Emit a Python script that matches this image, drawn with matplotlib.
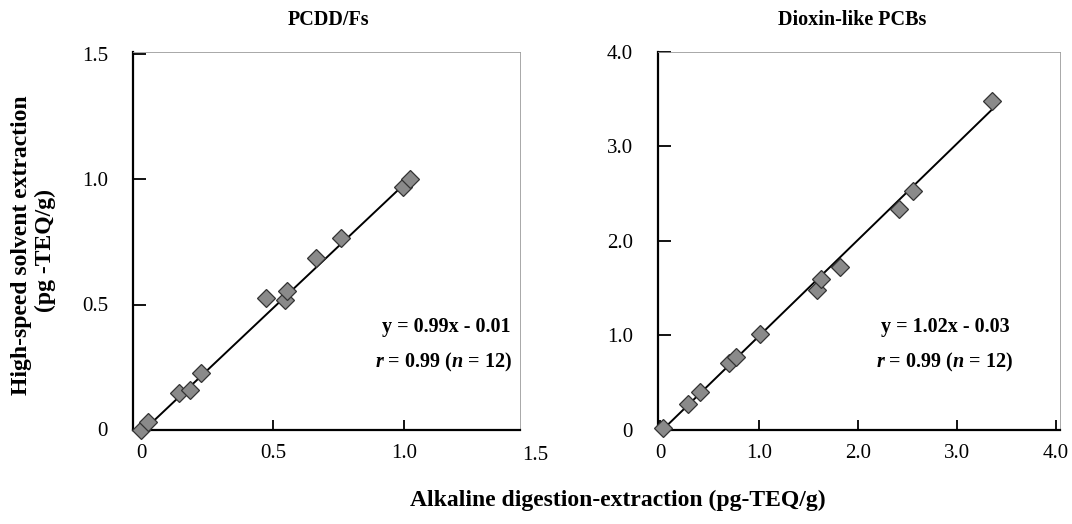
import matplotlib
matplotlib.use("Agg")
import matplotlib.pyplot as plt
import numpy as np

plt.rcParams['font.family'] = ['Liberation Serif', 'DejaVu Serif']
plt.rcParams['mathtext.fontset'] = 'custom'
plt.rcParams['mathtext.bfit'] = 'Liberation Serif:bold:italic'
plt.rcParams['mathtext.rm'] = 'Liberation Serif'
plt.rcParams['mathtext.bf'] = 'Liberation Serif:bold'

# PCDD/Fs data (alkaline digestion vs high-speed solvent extraction)
pcdd_x = [-0.005, 0.025, 0.14, 0.185, 0.225, 0.475, 0.545, 0.555, 0.665, 0.76, 0.995, 1.025]
pcdd_y = [0.0, 0.03, 0.145, 0.16, 0.225, 0.525, 0.52, 0.555, 0.685, 0.765, 0.97, 1.0]
pcdd_fit = (0.99, -0.01)
pcdd_fit_range = (-0.01, 1.03)

# Dioxin-like PCBs data
pcb_x = [0.03, 0.28, 0.40, 0.70, 0.77, 1.01, 1.59, 1.63, 1.82, 2.41, 2.56, 3.35]
pcb_y = [0.02, 0.27, 0.40, 0.71, 0.77, 1.01, 1.48, 1.59, 1.72, 2.335, 2.53, 3.48]
pcb_fit = (1.02, -0.03)
pcb_fit_range = (0.02, 3.35)

titles = ["PCDD/Fs", "Dioxin-like PCBs"]
eq_texts = ["y = 0.99x - 0.01", "y = 1.02x - 0.03"]
r_text = r"$\mathbfit{r}$ = 0.99 ($\mathbfit{n}$ = 12)"

pcdd_ticks = [0, 0.5, 1.0, 1.5]
pcdd_labels = ["0", "0.5", "1.0", "1.5"]
pcb_ticks = [0, 1.0, 2.0, 3.0, 4.0]
pcb_labels = ["0", "1.0", "2.0", "3.0", "4.0"]

W, H = 1072, 524
fig = plt.figure(figsize=(W / 100, H / 100), dpi=100)


def px_axes(x0, y0, x1, y1):
    return fig.add_axes([x0 / W, 1 - y1 / H, (x1 - x0) / W, (y1 - y0) / H])


ax1 = px_axes(133, 52, 520, 430)
ax2 = px_axes(658, 52, 1060, 430)

TICK_FS = 15
configs = [
    (ax1, pcdd_x, pcdd_y, pcdd_fit, pcdd_fit_range, (-0.034, 1.443), (-0.002, 1.51),
     pcdd_ticks, pcdd_labels, (510, 327), (512, 362), 329),
    (ax2, pcb_x, pcb_y, pcb_fit, pcb_fit_range, (-0.02, 4.04), (-0.005, 4.0),
     pcb_ticks, pcb_labels, (1010, 327), (1013, 362), 852),
]

for i, (ax, xs, ys, fit, frange, xl, yl, ticks, labels, eqpos, rpos, tx) in enumerate(configs):
    fx = np.array(frange)
    ax.plot(fx, fit[0] * fx + fit[1], color='black', lw=1.4, zorder=2)
    ax.plot(xs, ys, linestyle='none', marker='D', ms=9, mfc='#8a8a8a',
            mec='#333333', mew=0.9, zorder=3, clip_on=False)
    ax.set_xlim(*xl)
    ax.set_ylim(*yl)
    vis = [t for t in ticks if xl[0] <= t <= xl[1]]
    ax.set_xticks(vis)
    ax.set_xticklabels(labels[:len(vis)])
    ax.set_yticks(ticks)
    ax.set_yticklabels(labels)
    ax.tick_params(axis='y', direction='in', length=9.5, width=1.3, labelsize=TICK_FS, pad=18)
    ax.tick_params(axis='x', direction='in', length=7, width=1.3, labelsize=TICK_FS, pad=10)
    for s in ['left', 'bottom']:
        ax.spines[s].set_linewidth(1.6)
    for s in ['top', 'right']:
        ax.spines[s].set_linewidth(0.6)
        ax.spines[s].set_color('#9a9a9a')
    fig.text(tx / W, 1 - 20 / H, titles[i], ha='center', va='center',
             fontsize=14.5, fontweight='bold')
    fig.text(eqpos[0] / W, 1 - eqpos[1] / H, eq_texts[i], ha='right', va='center',
             fontsize=14.5, fontweight='bold')
    fig.text(rpos[0] / W, 1 - rpos[1] / H, r_text, ha='right', va='center',
             fontsize=14.5, fontweight='bold')

# tick label at 1.5 on the left x-axis (lies just beyond the frame)
fig.text((142 + 262 * 1.5) / W, 1 - 455 / H, "1.5", ha='center', va='center', fontsize=TICK_FS)

fig.text(22 / W, 1 - 245 / H, "High-speed solvent extraction", rotation=90,
         ha='center', va='center', fontsize=17, fontweight='bold')
fig.text(45 / W, 1 - 250 / H, "(pg -TEQ/g)", rotation=90,
         ha='center', va='center', fontsize=17, fontweight='bold')
fig.text(618 / W, 1 - 500 / H, "Alkaline digestion-extraction (pg-TEQ/g)",
         ha='center', va='center', fontsize=17, fontweight='bold')

fig.savefig("out.png", dpi=100, facecolor='white')
